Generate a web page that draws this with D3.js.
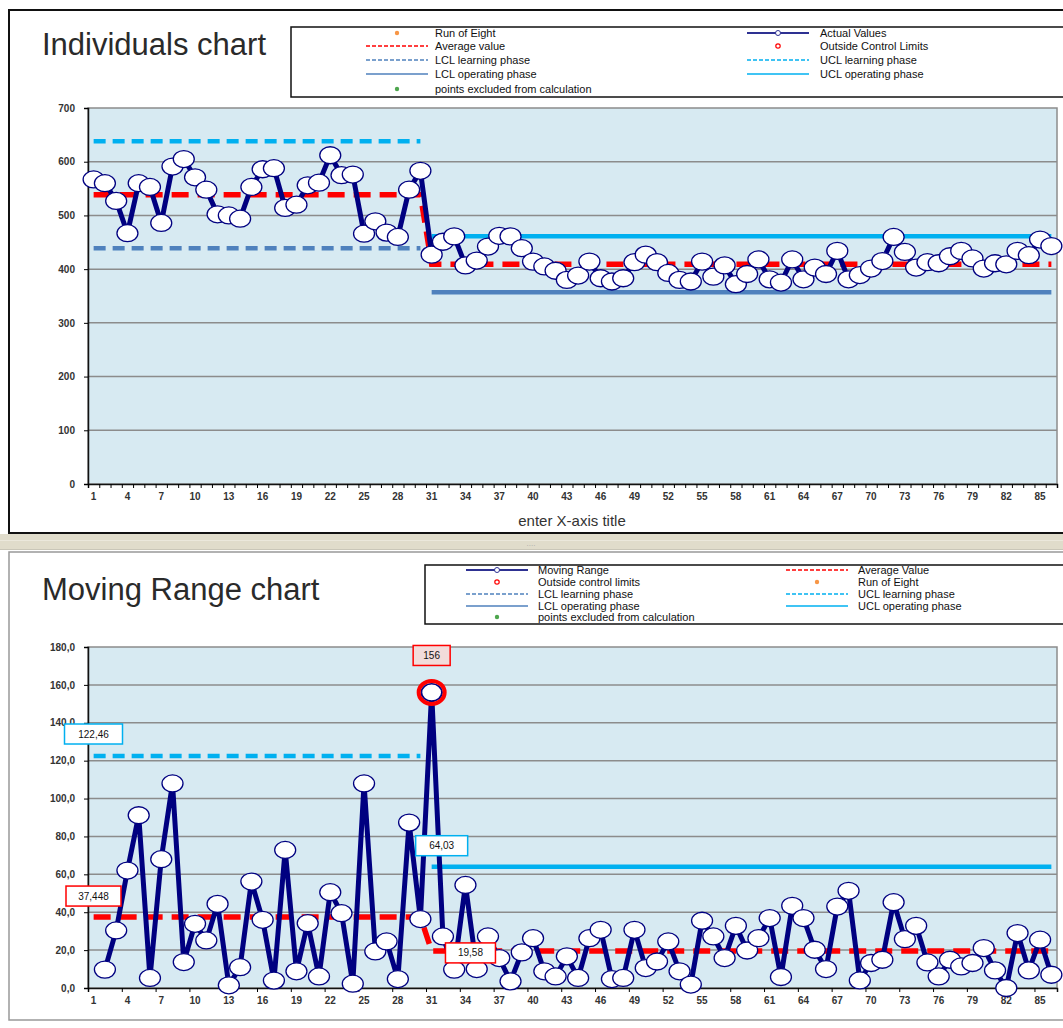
<!DOCTYPE html>
<html>
<meta charset="utf-8">
<head>
  <title>Individuals / Moving Range chart</title>
</head>
<style>
body { margin: 0; background: white; }
text { font-family: "Liberation Sans", Arial, sans-serif; fill: #222; }
.tick text { font-size: 10px; font-weight: bold; fill: #333; }
.legend text { font-size: 11px; fill: #111; }
.title { font-size: 31px; fill: #2a2a2a; }
.lbl { font-size: 10px; fill: #111; }
</style>
<body>
<svg width="1063" height="1028"></svg>
<script src="https://cdnjs.cloudflare.com/ajax/libs/d3/7.8.5/d3.min.js"></script>
<script>

var samples = d3.range(1, 87);   // sample numbers 1..86
var xTickLabels = ["1","4","7","10","13","16","19","22","25","28","31","34","37","40","43","46","49","52","55","58","61","64","67","70","73","76","79","82","85"];

var individuals = [567,560,527,467,560,553,486,591,605,571,548,502,500,494,553,586,588,514,520,556,
  561,612,575,576,466,489,468,460,548,583,427,451,461,407,416,442,462,461,439,414,
  405,397,380,388,414,383,377,383,413,427,413,393,380,377,414,386,407,372,391,418,
  381,375,418,381,403,391,434,381,389,401,415,460,432,403,413,411,424,434,420,401,
  411,409,434,426,455,443];

// moving range, samples 2..86
var movingRange = [9.7,30.4,62,91.2,5.3,68,108,13.7,33.9,25.1,44.4,1.4,11,56.2,36,3.9,72.9,8.8,34.2,6.1,
  50.6,39.5,2.3,108,19.3,24.6,4.7,87.3,36.4,156,27.2,9.7,54.4,10,27.2,15.8,3.5,18.8,26.3,8.8,
  6.1,16.7,5.3,26.3,30.7,4.7,5.3,30.7,10.5,14,24.6,8.8,1.8,35.5,27.2,15.8,32.8,19.8,26.3,36.9,
  5.8,43.4,36.9,20.2,10,43,51.3,4,13.2,14.9,45.3,25.8,32.8,13.5,6.1,14.9,11.4,13.2,21.1,9.3,
  0,29,9.3,25.5,7];

var learnEnd = 30;   // last sample of learning phase
var indAvg = [538.7, 409.2];
var indUcl = [638.3, 461.3];
var indLcl = [439.1, 357.1];
var mrAvg = [37.448, 19.58];
var mrUcl = [122.46, 64.03];
var indTicks = [0,100,200,300,400,500,600,700];
var mrTicks = [0,20,40,60,80,100,120,140,160,180];

var navy = "#000080", red = "#ff0000", cyan = "#00b0f0", steel = "#4f81bd";

var svg = d3.select("svg");

// panels
svg.append("rect").attr("x", 9).attr("y", 10).attr("width", 1080).attr("height", 523)
  .attr("fill", "white").attr("stroke", "#111").attr("stroke-width", 2);
svg.append("rect").attr("x", 0).attr("y", 534).attr("width", 1063).attr("height", 16).attr("fill", "#e0dccb");
svg.append("line").attr("x1", 0).attr("x2", 1063).attr("y1", 540.5).attr("y2", 540.5).attr("stroke", "#ebe8dc");
svg.append("line").attr("x1", 0).attr("x2", 1063).attr("y1", 549.5).attr("y2", 549.5).attr("stroke", "#c9c6b8");
svg.append("text").attr("x", 531).attr("y", 546).attr("text-anchor", "middle")
  .style("font-size", "8px").style("fill", "#aaa").text("....");
svg.append("rect").attr("x", 9).attr("y", 552).attr("width", 1080).attr("height", 468)
  .attr("fill", "white").attr("stroke", "#999").attr("stroke-width", 1.5);

var x = d3.scaleLinear().domain([0.5, 86.5]).range([88, 1057]);

function stepSeries(vals) {
  return samples.map(function(s) { return {s: s, v: s <= learnEnd ? vals[0] : vals[1]}; });
}

function drawChart(opt) {
  var y = d3.scaleLinear().domain(opt.domain).range([opt.bottom, opt.top]);
  var g = svg.append("g");

  g.append("rect").attr("x", 88).attr("y", opt.top).attr("width", 1057 - 88).attr("height", opt.bottom - opt.top)
    .attr("fill", "#d7eaf2").attr("stroke", "#8c8c8c").attr("stroke-width", 1.5);

  g.selectAll(".grid").data(opt.ticks.slice(1, -1)).enter().append("line")
    .attr("x1", 88).attr("x2", 1057)
    .attr("y1", function(d) { return y(d); }).attr("y2", function(d) { return y(d); })
    .attr("stroke", "#8c8c8c").attr("stroke-width", 1.5);

  var yAxis = g.append("g").attr("transform", "translate(88,0)")
    .call(d3.axisLeft(y).tickValues(opt.ticks).tickSize(4).tickPadding(9).tickFormat(opt.fmt));
  yAxis.select(".domain").attr("stroke", "#111").attr("stroke-width", 1.5);

  var xAxis = g.append("g").attr("transform", "translate(0," + opt.bottom + ")")
    .call(d3.axisBottom(x).tickValues(d3.range(0.5, 87, opt.tickEvery)).tickSize(4).tickFormat(""));
  xAxis.select(".domain").attr("stroke", "#111").attr("stroke-width", 1.5);

  g.selectAll(".xl").data(xTickLabels).enter().append("text")
    .attr("x", function(d) { return x(+d); }).attr("y", opt.bottom + 16)
    .attr("text-anchor", "middle")
    .style("font-size", "10px").style("font-weight", "bold").style("fill", "#333")
    .text(function(d) { return d; });

  var hline = d3.line().x(function(d) { return x(d.s); }).y(function(d) { return y(d.v); });

  // learning / operating phase limits
  opt.limits.forEach(function(L) {
    var pts = samples.filter(function(s) { return L.phase === 0 ? s <= learnEnd : s > learnEnd; })
      .map(function(s) { return {s: s, v: L.v}; });
    g.append("path").datum(pts).attr("d", hline).attr("fill", "none")
      .attr("stroke", L.color).attr("stroke-width", 4.5)
      .attr("stroke-dasharray", L.phase === 0 ? "12,7" : null);
  });

  g.append("path").datum(stepSeries(opt.avg)).attr("d", hline).attr("fill", "none")
    .attr("stroke", red).attr("stroke-width", 5.5).attr("stroke-dasharray", "17,9");

  var pts = opt.values.map(function(v, i) { return {s: i + opt.first, v: v}; });
  g.append("path").datum(pts).attr("d", hline).attr("fill", "none")
    .attr("stroke", navy).attr("stroke-width", 5).attr("stroke-linejoin", "round");

  g.selectAll(".pt").data(pts).enter().append("ellipse")
    .attr("cx", function(d) { return x(d.s); }).attr("cy", function(d) { return y(d.v); })
    .attr("rx", 10.5).attr("ry", 8.5)
    .attr("fill", "white").attr("stroke", navy).attr("stroke-width", 1.3);

  return {g: g, y: y, pts: pts};
}

var ind = drawChart({
  top: 108, bottom: 484, domain: [0, 700], ticks: indTicks, fmt: d3.format("d"),
  tickEvery: 1, values: individuals, first: 1, avg: indAvg,
  limits: [
    {phase: 0, v: indUcl[0], color: cyan}, {phase: 0, v: indLcl[0], color: steel},
    {phase: 1, v: indUcl[1], color: cyan}, {phase: 1, v: indLcl[1], color: steel}
  ]
});

var mr = drawChart({
  top: 647, bottom: 988, domain: [0, 180], ticks: mrTicks,
  fmt: function(d) { return d3.format(".1f")(d).replace(".", ","); },
  tickEvery: 3, values: movingRange, first: 2, avg: mrAvg,
  limits: [
    {phase: 0, v: mrUcl[0], color: cyan}, {phase: 1, v: mrUcl[1], color: cyan}
  ]
});

// point outside control limits
mr.pts.filter(function(d) { return d.s > learnEnd ? d.v > mrUcl[1] : d.v > mrUcl[0]; }).forEach(function(d) {
  mr.g.append("ellipse").attr("cx", x(d.s)).attr("cy", mr.y(d.v)).attr("rx", 13).attr("ry", 11.5)
    .attr("fill", "none").attr("stroke", red).attr("stroke-width", 4);
  mr.g.append("ellipse").attr("cx", x(d.s)).attr("cy", mr.y(d.v)).attr("rx", 10).attr("ry", 8.5)
    .attr("fill", "white").attr("stroke", navy).attr("stroke-width", 1.3);
});

function labelBox(cx, cy, w, txt, stroke, fill) {
  svg.append("rect").attr("x", cx - w / 2).attr("y", cy - 10).attr("width", w).attr("height", 20)
    .attr("fill", fill || "white").attr("stroke", stroke).attr("stroke-width", 1.5);
  svg.append("text").attr("class", "lbl").attr("x", cx).attr("y", cy + 3.5)
    .attr("text-anchor", "middle").text(txt);
}
var comma = function(v) { return String(v).replace(".", ","); };
labelBox(93.5, mr.y(mrUcl[0]) - 22, 58, comma(mrUcl[0]), cyan);
labelBox(93.5, mr.y(mrAvg[0]) - 21, 55, comma(mrAvg[0]), red);
labelBox(x(31), mr.y(156) - 37, 37, "156", red, "#f2dcdb");
labelBox(x(31) + 10, mr.y(mrUcl[1]) - 21, 52, comma(mrUcl[1]), cyan);
labelBox(x(34) + 5, mr.y(mrAvg[1]) + 2, 50, comma(mrAvg[1]), red);

// titles
svg.append("text").attr("class", "title").attr("x", 42).attr("y", 55).text("Individuals chart");
svg.append("text").attr("class", "title").attr("x", 42).attr("y", 600).text("Moving Range chart");
svg.append("text").attr("x", 572).attr("y", 526).attr("text-anchor", "middle")
  .style("font-size", "15px").style("fill", "#333").text("enter X-axis title");

// legends
function legend(box, rows) {
  var lg = svg.append("g").attr("class", "legend");
  lg.append("rect").attr("x", box.x).attr("y", box.y).attr("width", box.w).attr("height", box.h)
    .attr("fill", "white").attr("stroke", "#111").attr("stroke-width", 1.5);
  rows.forEach(function(r) {
    var sx = r.sx, sy = r.y;
    if (r.type === "line" || r.type === "marker") {
      lg.append("line").attr("x1", sx - 31).attr("x2", sx + 31).attr("y1", sy).attr("y2", sy)
        .attr("stroke", r.color).attr("stroke-width", r.type === "marker" ? 2 : 1.5)
        .attr("stroke-dasharray", r.dash ? "4,2" : null);
    }
    if (r.type === "marker") {
      lg.append("circle").attr("cx", sx).attr("cy", sy).attr("r", 2.5)
        .attr("fill", "white").attr("stroke", r.color).attr("stroke-width", 1);
    }
    if (r.type === "dot") {
      lg.append("circle").attr("cx", sx).attr("cy", sy).attr("r", 2.2).attr("fill", r.color);
    }
    if (r.type === "ring") {
      lg.append("circle").attr("cx", sx).attr("cy", sy).attr("r", 2.2)
        .attr("fill", "white").attr("stroke", r.color).attr("stroke-width", 1.2);
    }
    lg.append("text").attr("x", r.tx).attr("y", sy + 3.5).text(r.text);
  });
}

var tRows = [33, 46, 60, 74, 89];
legend({x: 291, y: 27, w: 790, h: 70}, [
  {sx: 397, tx: 435, y: tRows[0], type: "dot", color: "#f79646", text: "Run of Eight"},
  {sx: 397, tx: 435, y: tRows[1], type: "line", dash: true, color: red, text: "Average value"},
  {sx: 397, tx: 435, y: tRows[2], type: "line", dash: true, color: steel, text: "LCL learning phase"},
  {sx: 397, tx: 435, y: tRows[3], type: "line", color: steel, text: "LCL operating phase"},
  {sx: 397, tx: 435, y: tRows[4], type: "dot", color: "#4ea64e", text: "points excluded from calculation"},
  {sx: 778, tx: 820, y: tRows[0], type: "marker", color: "#2e3192", text: "Actual Values"},
  {sx: 778, tx: 820, y: tRows[1], type: "ring", color: red, text: "Outside Control Limits"},
  {sx: 778, tx: 820, y: tRows[2], type: "line", dash: true, color: cyan, text: "UCL learning phase"},
  {sx: 778, tx: 820, y: tRows[3], type: "line", color: cyan, text: "UCL operating phase"}
]);

var bRows = [570, 582, 594, 606, 617];
legend({x: 425, y: 565, w: 660, h: 59}, [
  {sx: 497, tx: 538, y: bRows[0], type: "marker", color: "#2e3192", text: "Moving Range"},
  {sx: 497, tx: 538, y: bRows[1], type: "ring", color: red, text: "Outside control limits"},
  {sx: 497, tx: 538, y: bRows[2], type: "line", dash: true, color: steel, text: "LCL learning phase"},
  {sx: 497, tx: 538, y: bRows[3], type: "line", color: steel, text: "LCL operating phase"},
  {sx: 497, tx: 538, y: bRows[4], type: "dot", color: "#4ea64e", text: "points excluded from calculation"},
  {sx: 817, tx: 858, y: bRows[0], type: "line", dash: true, color: red, text: "Average Value"},
  {sx: 817, tx: 858, y: bRows[1], type: "dot", color: "#f79646", text: "Run of Eight"},
  {sx: 817, tx: 858, y: bRows[2], type: "line", dash: true, color: cyan, text: "UCL learning phase"},
  {sx: 817, tx: 858, y: bRows[3], type: "line", color: cyan, text: "UCL operating phase"}
]);

</script>
</body>
</html>
